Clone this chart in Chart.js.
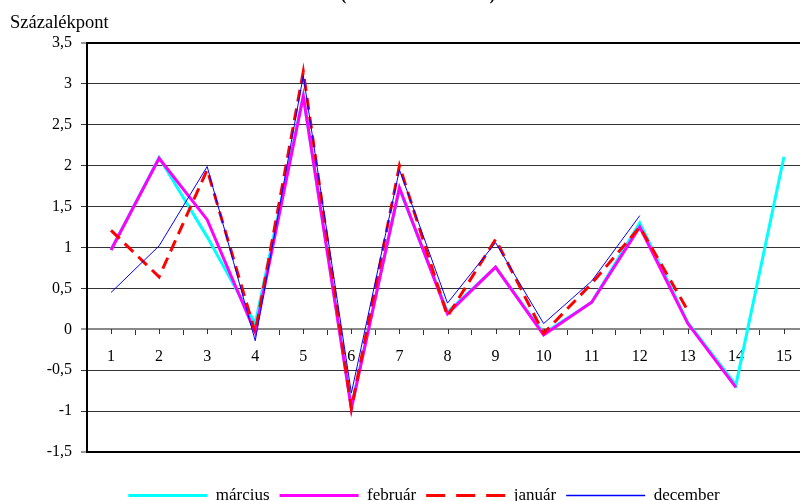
<!DOCTYPE html>
<html lang="hu">
<head>
<meta charset="utf-8">
<title>Százalékpont</title>
<script src="https://cdn.jsdelivr.net/npm/chart.js@4/dist/chart.umd.min.js"></script>
<style>
  html, body { margin: 0; padding: 0; width: 800px; height: 501px; overflow: hidden; background: #fff; }
  canvas { display: block; }
</style>
</head>
<body>
<canvas id="chart" width="848" height="514"></canvas>
<script>
// Categories along the horizontal axis
const periods = ['1', '2', '3', '4', '5', '6', '7', '8', '9', '10', '11', '12', '13', '14', '15'];

// Series names (legend)
const seriesNames = ['március', 'február', 'január', 'december'];

// Series values, percentage points
const marcius  = [0.97, 2.10, 1.13, 0.07, 2.85, -0.95, 1.72, 0.21, 0.76, -0.05, 0.33, 1.30, 0.08, -0.68, 2.11];
const februar  = [0.97, 2.09, 1.34, -0.04, 2.85, -0.97, 1.73, 0.19, 0.76, -0.07, 0.33, 1.25, 0.07, -0.71];
const januar   = [1.21, 0.64, 1.95, -0.04, 3.15, -0.97, 2.00, 0.16, 1.10, -0.05, 0.56, 1.25, 0.23];
const december = [0.45, 1.02, 1.99, -0.14, 3.10, -0.78, 1.95, 0.32, 1.06, 0.07, 0.59, 1.39];

// Value axis range and step
const yMin = -1.5;
const yMax = 3.5;
const yStep = 0.5;

const yTitle = 'Százalékpont';
const chartTitle = '(1998–1999. március)';

const SERIF = '"Liberation Serif", "Times New Roman", Times, serif';
Chart.defaults.font.family = SERIF;
Chart.defaults.color = '#000';

// Small tick marks at the centre of every category on the zero line
const centerTicks = {
  id: 'centerTicks',
  beforeDatasetsDraw(chart) {
    const xs = chart.scales.x;
    const y0 = Math.round(chart.scales.y.getPixelForValue(0));
    const ctx = chart.ctx;
    ctx.save();
    ctx.strokeStyle = '#333';
    ctx.lineWidth = 1;
    ctx.beginPath();
    for (let i = 0; i < xs.ticks.length; i++) {
      const x = Math.round(xs.getPixelForTick(i)) + 0.5;
      ctx.moveTo(x, y0);
      ctx.lineTo(x, y0 + 5);
    }
    ctx.stroke();
    ctx.restore();
  }
};

// Unit label above the value axis and the heading line at the very top
const headings = {
  id: 'headings',
  afterDraw(chart) {
    const ctx = chart.ctx;
    ctx.save();
    ctx.fillStyle = '#000';
    ctx.textBaseline = 'alphabetic';
    ctx.textAlign = 'left';
    ctx.font = '18.5px ' + SERIF;
    ctx.fillText(yTitle, 10, 28);
    ctx.textAlign = 'center';
    ctx.font = 'bold 17px ' + SERIF;
    ctx.fillText(chartTitle, 418, 0);
    ctx.restore();
  }
};

const gridColor = (c) => {
  const v = c.tick ? c.tick.value : null;
  if (v === yMax || v === yMin) return '#000';
  if (v === 0) return '#888';
  return '#333';
};
const gridWidth = (c) => {
  const v = c.tick ? c.tick.value : null;
  if (v === yMax || v === yMin || v === 0) return 2;
  return 1;
};

const legendDash = [19, 11];

new Chart(document.getElementById('chart'), {
  type: 'line',
  data: {
    labels: periods,
    datasets: [
      { label: seriesNames[0], data: marcius,  borderColor: '#00FFFF', backgroundColor: '#00FFFF', borderWidth: 3, order: 4 },
      { label: seriesNames[1], data: februar,  borderColor: '#FF00FF', backgroundColor: '#FF00FF', borderWidth: 3, order: 3 },
      { label: seriesNames[2], data: januar,   borderColor: '#FF0000', backgroundColor: '#FF0000', borderWidth: 3, borderDash: [12, 7], order: 2 },
      { label: seriesNames[3], data: december, borderColor: '#0000FF', backgroundColor: '#0000FF', borderWidth: 1, order: 1 }
    ]
  },
  options: {
    responsive: false,
    animation: false,
    devicePixelRatio: 1,
    elements: {
      point: { radius: 0, hoverRadius: 0 },
      line: { tension: 0, fill: false }
    },
    layout: { padding: { top: 43, right: 0, bottom: 0, left: 0 } },
    scales: {
      x: {
        type: 'category',
        position: { y: 0 },
        offset: true,
        grid: {
          display: true,
          drawOnChartArea: false,
          drawTicks: true,
          tickLength: 5,
          tickColor: '#333',
          tickWidth: 1,
          offset: true
        },
        border: { display: true, color: '#888', width: 2 },
        ticks: {
          font: { size: 16 },
          color: '#000',
          padding: 13,
          autoSkip: false,
          maxRotation: 0
        }
      },
      y: {
        min: yMin,
        max: yMax,
        afterFit(scale) { scale.width = 87; },
        grid: {
          color: gridColor,
          lineWidth: gridWidth,
          drawTicks: true,
          tickLength: 6,
          tickColor: '#333',
          tickWidth: 1
        },
        border: { display: true, color: '#000', width: 2 },
        ticks: {
          stepSize: yStep,
          font: { size: 16 },
          color: '#000',
          padding: 9,
          callback: (v) => String(Math.round(v * 10) / 10).replace('.', ',')
        }
      },
      // empty right-hand margin beside the plot area
      yRight: {
        position: 'right',
        min: yMin,
        max: yMax,
        afterFit(scale) { scale.width = 40; },
        grid: { display: false, drawTicks: false },
        border: { display: false },
        ticks: { display: false }
      }
    },
    plugins: {
      legend: {
        display: true,
        position: 'bottom',
        title: { display: true, text: '', font: { size: 10, lineHeight: 1 }, padding: { top: 15, bottom: 0 } },
        labels: {
          usePointStyle: true,
          pointStyle: 'line',
          pointStyleWidth: 79,
          font: { size: 17 },
          color: '#000',
          padding: 10,
          sort: (a, b) => a.datasetIndex - b.datasetIndex,
          generateLabels(chart) {
            const items = Chart.defaults.plugins.legend.labels.generateLabels(chart);
            items.forEach((it) => {
              const ds = chart.data.datasets[it.datasetIndex];
              it.strokeStyle = ds.borderColor;
              it.lineWidth = Math.max(ds.borderWidth, 1.5);
              it.lineDash = ds.borderDash ? legendDash : [];
            });
            return items;
          }
        }
      },
      tooltip: { enabled: false }
    }
  },
  plugins: [centerTicks, headings]
});
</script>
</body>
</html>
